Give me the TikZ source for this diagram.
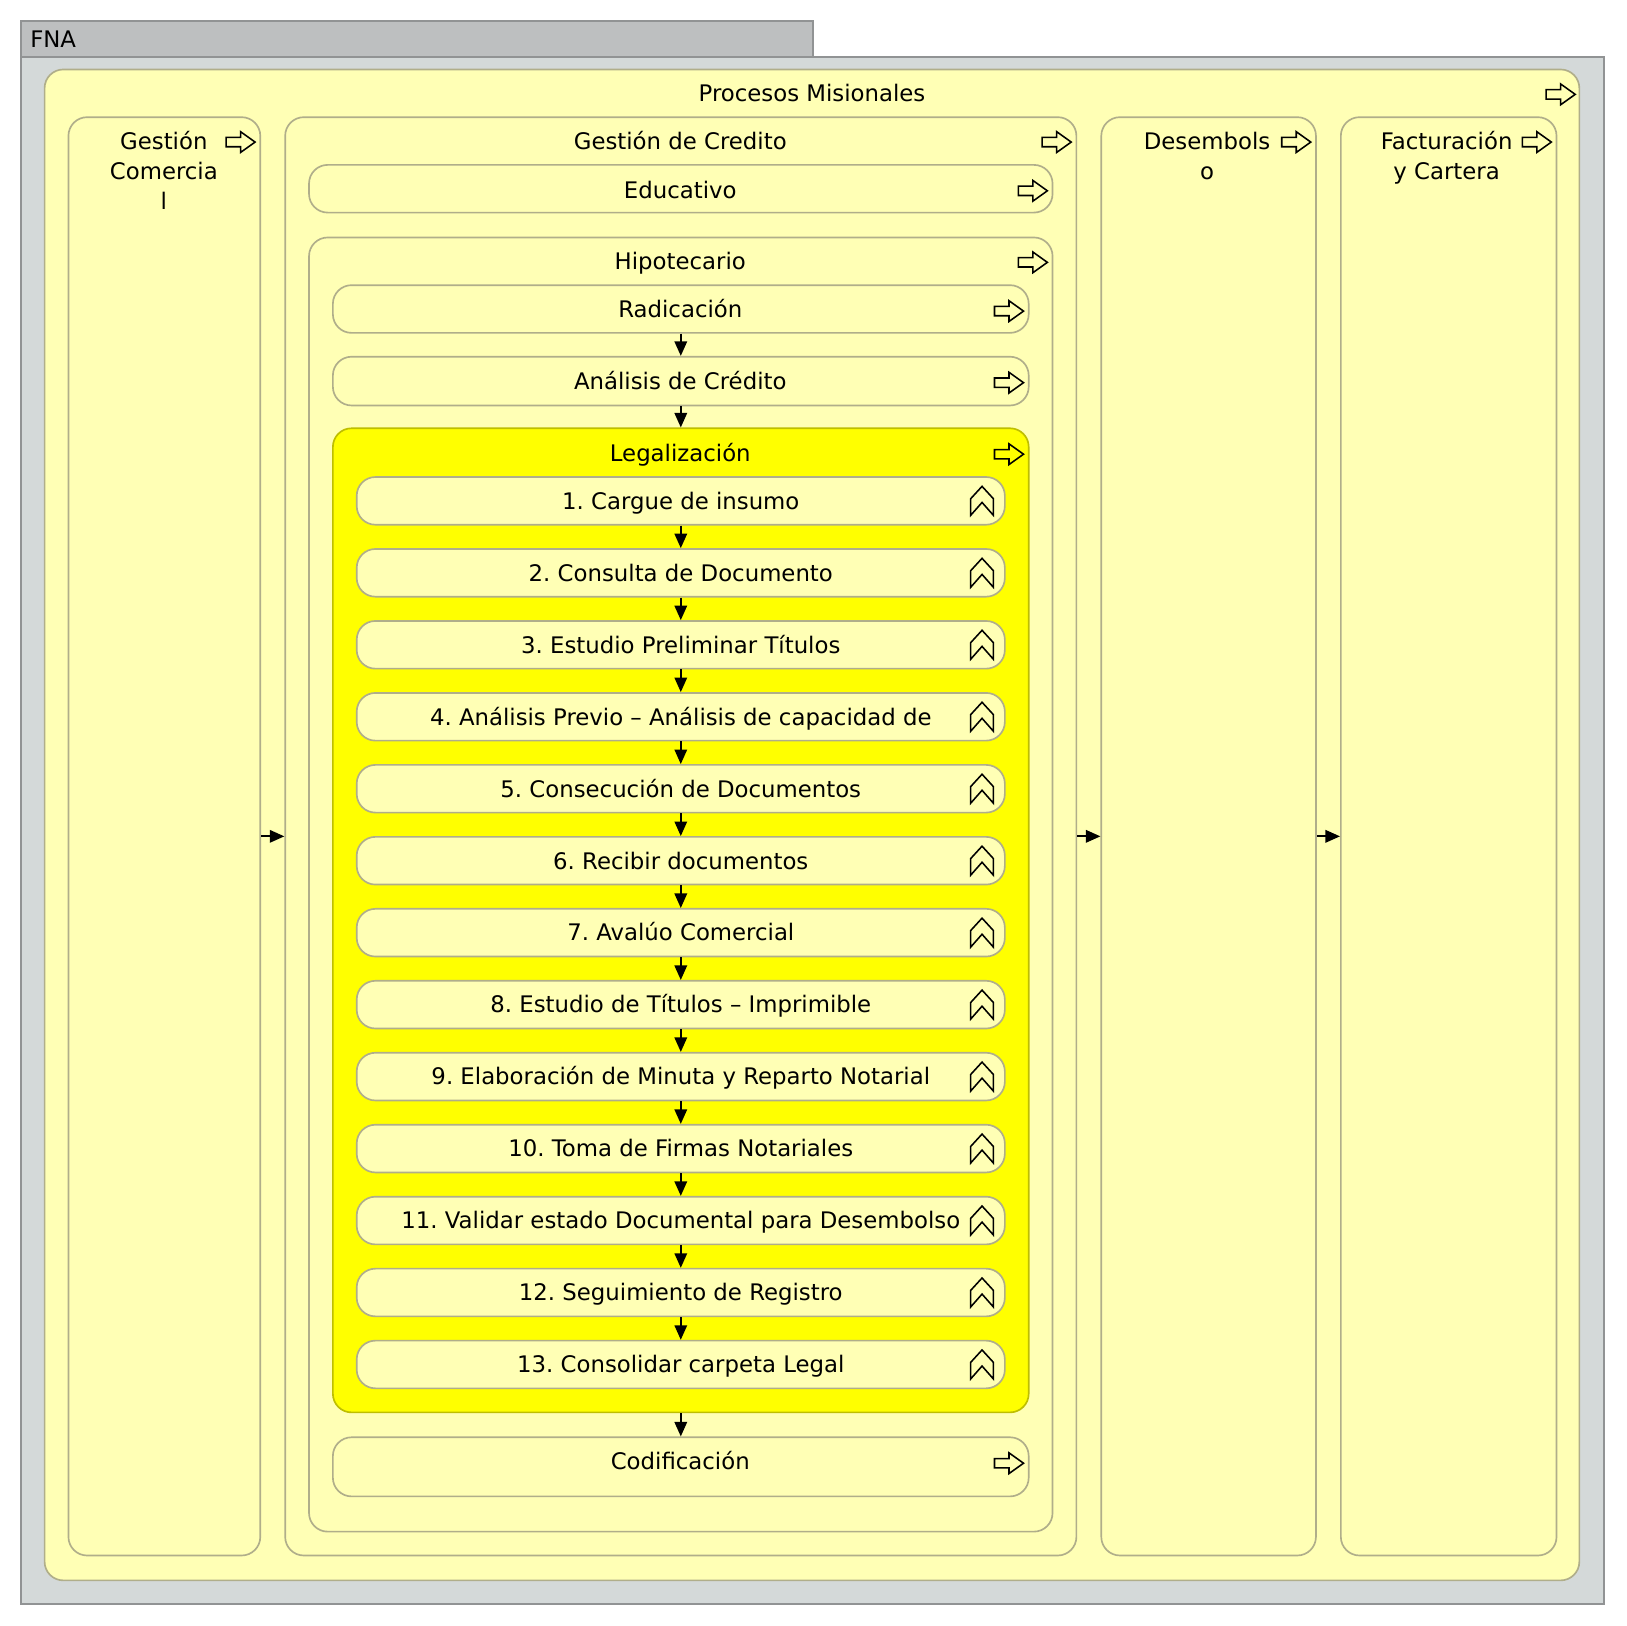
\documentclass[tikz,border=0pt]{standalone}
\usepackage{fontspec}
\setmainfont{DejaVu Sans}
\usetikzlibrary{fit,arrows.meta,calc}
\definecolor{lyel}{RGB}{255,255,181}
\definecolor{lyelB}{RGB}{176,174,138}
\definecolor{byel}{RGB}{255,255,0}
\definecolor{byelB}{RGB}{190,190,0}
\definecolor{tabgray}{RGB}{189,191,192}
\definecolor{bodygray}{RGB}{212,217,217}
\definecolor{edgegray}{RGB}{145,147,148}
\frenchspacing
\tikzset{
  lbl/.style={font=\fontsize{22}{29}\selectfont, inner sep=0pt, text height=16pt, text depth=0pt},
  cont/.style={draw=lyelB, fill=lyel, line width=1.6pt, rounded corners=18pt, inner sep=0pt},
  legbox/.style={draw=byelB, fill=byel, line width=1.6pt, rounded corners=18pt, inner sep=0pt},
  stepbox/.style={draw=lyelB, fill=lyel, line width=1.6pt, rounded corners=18pt, inner sep=0pt,
    minimum width=625pt, minimum height=46pt, font=\fontsize{22}{29}\selectfont, text height=16pt, text depth=0pt},
  conn/.style={draw=black, line width=1.8pt, -{Triangle[length=14pt,width=12pt]}},
  procarrow/.pic={\draw[line width=1.5pt, line join=miter] (-14,-4.5) -- (0,-4.5) -- (0,-10) -- (14,0) -- (0,10) -- (0,4.5) -- (-14,4.5) -- cycle;},
  funcicon/.pic={\draw[line width=1.5pt, line join=miter] (-11,14) -- (-11,-2) -- (0,-14) -- (11,-2) -- (11,14) -- (0,1.5) -- cycle;}
}
\begin{document}
\begin{tikzpicture}[x=1pt,y=-1pt]
\useasboundingbox (0,0) rectangle (1568,1568);
% outer frame
\node[draw=edgegray, fill=bodygray, line width=1.6pt, inner sep=0pt, fit={(20,55)(1547,1547)}] (body) {};
\node[draw=edgegray, fill=tabgray, line width=1.6pt, inner sep=0pt, fit={(20,20)(784,55)}] (tab) {};
\node[lbl, anchor=west] (tabT) at (29,38) {FNA};
% Procesos Misionales
\node[cont, fit={(43,67)(1523,1524)}] (pm) {};
\node[lbl] (pmT) at (783,90) {Procesos Misionales};
\pic at (1505,91) {procarrow};
% columns
\node[cont, fit={(66,113)(251,1500)}] (gcom) {};
\node[lbl] (gcomT1) at (158,136) {Gestión};
\node[lbl] (gcomT2) at (158,165) {Comercia};
\node[lbl] (gcomT3) at (158,194) {l};
\pic at (232,137) {procarrow};
\node[cont, fit={(275,113)(1038,1500)}] (gcred) {};
\node[lbl] (gcredT) at (656,136) {Gestión de Credito};
\pic at (1019,137) {procarrow};
\node[cont, fit={(1062,113)(1269,1500)}] (des) {};
\node[lbl] (desT1) at (1164,136) {Desembols};
\node[lbl] (desT2) at (1164,165) {o};
\pic at (1250,137) {procarrow};
\node[cont, fit={(1293,113)(1501,1500)}] (fac) {};
\node[lbl] (facT1) at (1395,136) {Facturación};
\node[lbl] (facT2) at (1395,165) {y Cartera};
\pic at (1482,137) {procarrow};
% Gestion de credito contents
\node[cont, fit={(298,159)(1015,205)}] (edu) {};
\node[lbl] (eduT) at (656,183) {Educativo};
\pic at (996,184) {procarrow};
\node[cont, fit={(298,229)(1015,1477)}] (hip) {};
\node[lbl] (hipT) at (656,252) {Hipotecario};
\pic at (996,253) {procarrow};
\node[cont, fit={(321,275)(992,321)}] (rad) {};
\node[lbl] (radT) at (656,298) {Radicación};
\pic at (973,300) {procarrow};
\node[cont, fit={(321,344)(992,391)}] (ana) {};
\node[lbl] (anaT) at (656,368) {Análisis de Crédito};
\pic at (973,369) {procarrow};
\node[legbox, fit={(321,413)(992,1362)}] (leg) {};
\node[lbl] (legT) at (656,437) {Legalización};
\pic at (973,438) {procarrow};
\node[cont, fit={(321,1386)(992,1443)}] (cod) {};
\node[lbl] (codT) at (656,1409) {Codificación};
\pic at (973,1411) {procarrow};
% steps
\foreach \i/\t in {1/1. Cargue de insumo,2/2. Consulta de Documento,3/3. Estudio Preliminar Títulos,
  4/4. Análisis Previo – Análisis de capacidad de,5/5. Consecución de Documentos,6/6. Recibir documentos,
  7/7. Avalúo Comercial,8/8. Estudio de Títulos – Imprimible,9/9. Elaboración de Minuta y Reparto Notarial,
  10/10. Toma de Firmas Notariales,11/11. Validar estado Documental para Desembolso,
  12/12. Seguimiento de Registro,13/13. Consolidar carpeta Legal}{
  \node[stepbox] (s\i) at (656.5,{483+69.4*(\i-1)}) {\t};
  \pic at (947,{483+69.4*(\i-1)}) {funcicon};
}
% connectors
\draw[conn] (rad.south) -- (ana.north);
\draw[conn] (ana.south) -- (leg.north);
\foreach \i [evaluate=\i as \j using int(\i+1)] in {1,...,12}{
  \draw[conn] (s\i.south) -- (s\j.north);
}
\draw[conn] (leg.south) -- (cod.north);
\draw[conn] (gcom.east) -- (gcred.west);
\draw[conn] (gcred.east) -- (des.west);
\draw[conn] (des.east) -- (fac.west);
\end{tikzpicture}
\end{document}
